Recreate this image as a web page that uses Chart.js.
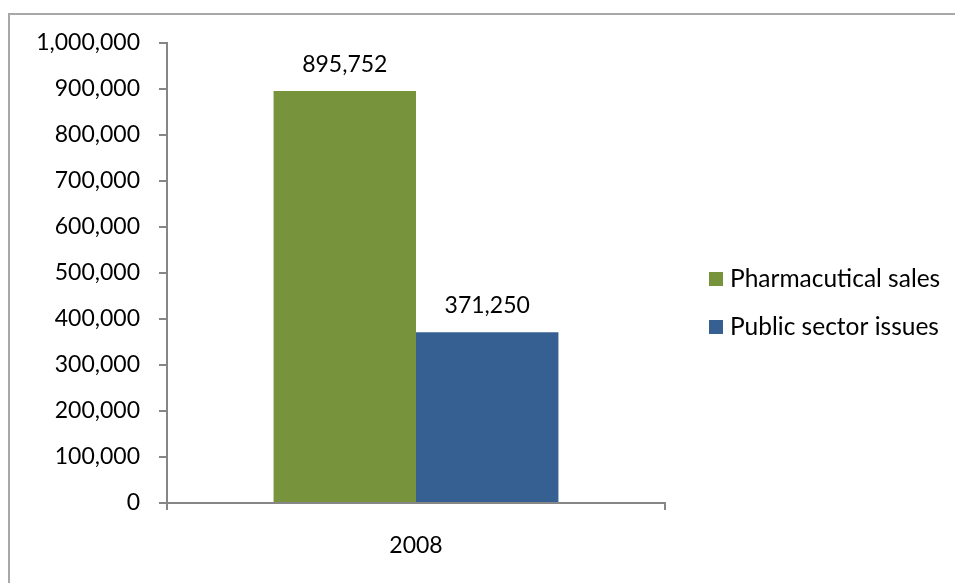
<!DOCTYPE html>
<html>
<head>
<meta charset="utf-8">
<script src="https://cdn.jsdelivr.net/npm/chart.js@4.4.1/dist/chart.umd.min.js"></script>
<style>
  html, body { margin: 0; padding: 0; background: #ffffff; }
  #wrap { position: relative; width: 955px; height: 583px; }
  #frame {
    position: absolute; left: 8px; top: 13px; right: 0; bottom: 0;
    border-left: 2px solid #a8a8a8; border-top: 2px solid #a8a8a8;
    pointer-events: none;
  }
  canvas { position: absolute; left: 0; top: 0; }
</style>
</head>
<body>
<div id="wrap">
  <canvas id="c" width="955" height="583"></canvas>
  <div id="frame"></div>
</div>
<script>
const categories = ['2008'];
const seriesNames = ['Pharmacutical sales', 'Public sector issues'];
const pharmaSales = [895752];
const publicIssues = [371250];
const seriesColors = ['#77933C', '#376092'];
const yTicks = [0, 100000, 200000, 300000, 400000, 500000, 600000, 700000, 800000, 900000, 1000000];

const FONT = 'Lato, "Open Sans", sans-serif';
const fmt = v => v.toLocaleString('en-US');

// value labels above each bar
const valueLabels = {
  id: 'valueLabels',
  afterDatasetsDraw(chart) {
    const ctx = chart.ctx;
    ctx.save();
    ctx.font = '23px ' + FONT;
    ctx.fillStyle = '#000000';
    ctx.textAlign = 'center';
    ctx.textBaseline = 'bottom';
    chart.data.datasets.forEach((ds, i) => {
      chart.getDatasetMeta(i).data.forEach((bar, j) => {
        ctx.fillText(fmt(ds.data[j]), bar.x, bar.y - 15);
      });
    });
    ctx.restore();
  }
};

// legend on the right, square swatches
const sideLegend = {
  id: 'sideLegend',
  afterDraw(chart) {
    const ctx = chart.ctx;
    ctx.save();
    ctx.font = '24.5px ' + FONT;
    ctx.textBaseline = 'middle';
    ctx.textAlign = 'left';
    const x0 = 709, y0 = 279, gap = 48, box = 14;
    chart.data.datasets.forEach((ds, i) => {
      const cy = y0 + i * gap;
      ctx.fillStyle = ds.backgroundColor;
      ctx.fillRect(x0, cy - box / 2, box, box);
      ctx.fillStyle = '#000000';
      ctx.fillText(ds.label, x0 + 21, cy);
    });
    ctx.restore();
  }
};

new Chart(document.getElementById('c'), {
  type: 'bar',
  data: {
    labels: categories,
    datasets: [
      { label: seriesNames[0], data: pharmaSales, backgroundColor: seriesColors[0] },
      { label: seriesNames[1], data: publicIssues, backgroundColor: seriesColors[1] }
    ]
  },
  options: {
    responsive: false,
    animation: false,
    devicePixelRatio: 1,
    layout: { padding: { left: 0, top: 43, right: 290, bottom: 0 } },
    datasets: { bar: { barPercentage: 1, categoryPercentage: 0.572 } },
    plugins: { legend: { display: false }, tooltip: { enabled: false } },
    scales: {
      x: {
        offset: true,
        grid: { offset: true, drawOnChartArea: false, drawTicks: true, tickLength: 7, color: '#868686', lineWidth: 2 },
        border: { display: true, color: '#868686', width: 2 },
        ticks: { color: '#000000', font: { family: FONT, size: 23 }, padding: 22 },
        afterFit(scale) { scale.height = 80; }
      },
      y: {
        min: 0,
        max: 1000000,
        afterBuildTicks(scale) { scale.ticks = yTicks.map(v => ({ value: v })); },
        grid: { drawOnChartArea: false, drawTicks: true, tickLength: 8, color: '#868686', lineWidth: 2 },
        border: { display: true, color: '#868686', width: 2 },
        ticks: { color: '#000000', font: { family: FONT, size: 23 }, padding: 19, callback: v => fmt(v) },
        afterFit(scale) { scale.width = 167; }
      }
    }
  },
  plugins: [valueLabels, sideLegend]
});
</script>
</body>
</html>
